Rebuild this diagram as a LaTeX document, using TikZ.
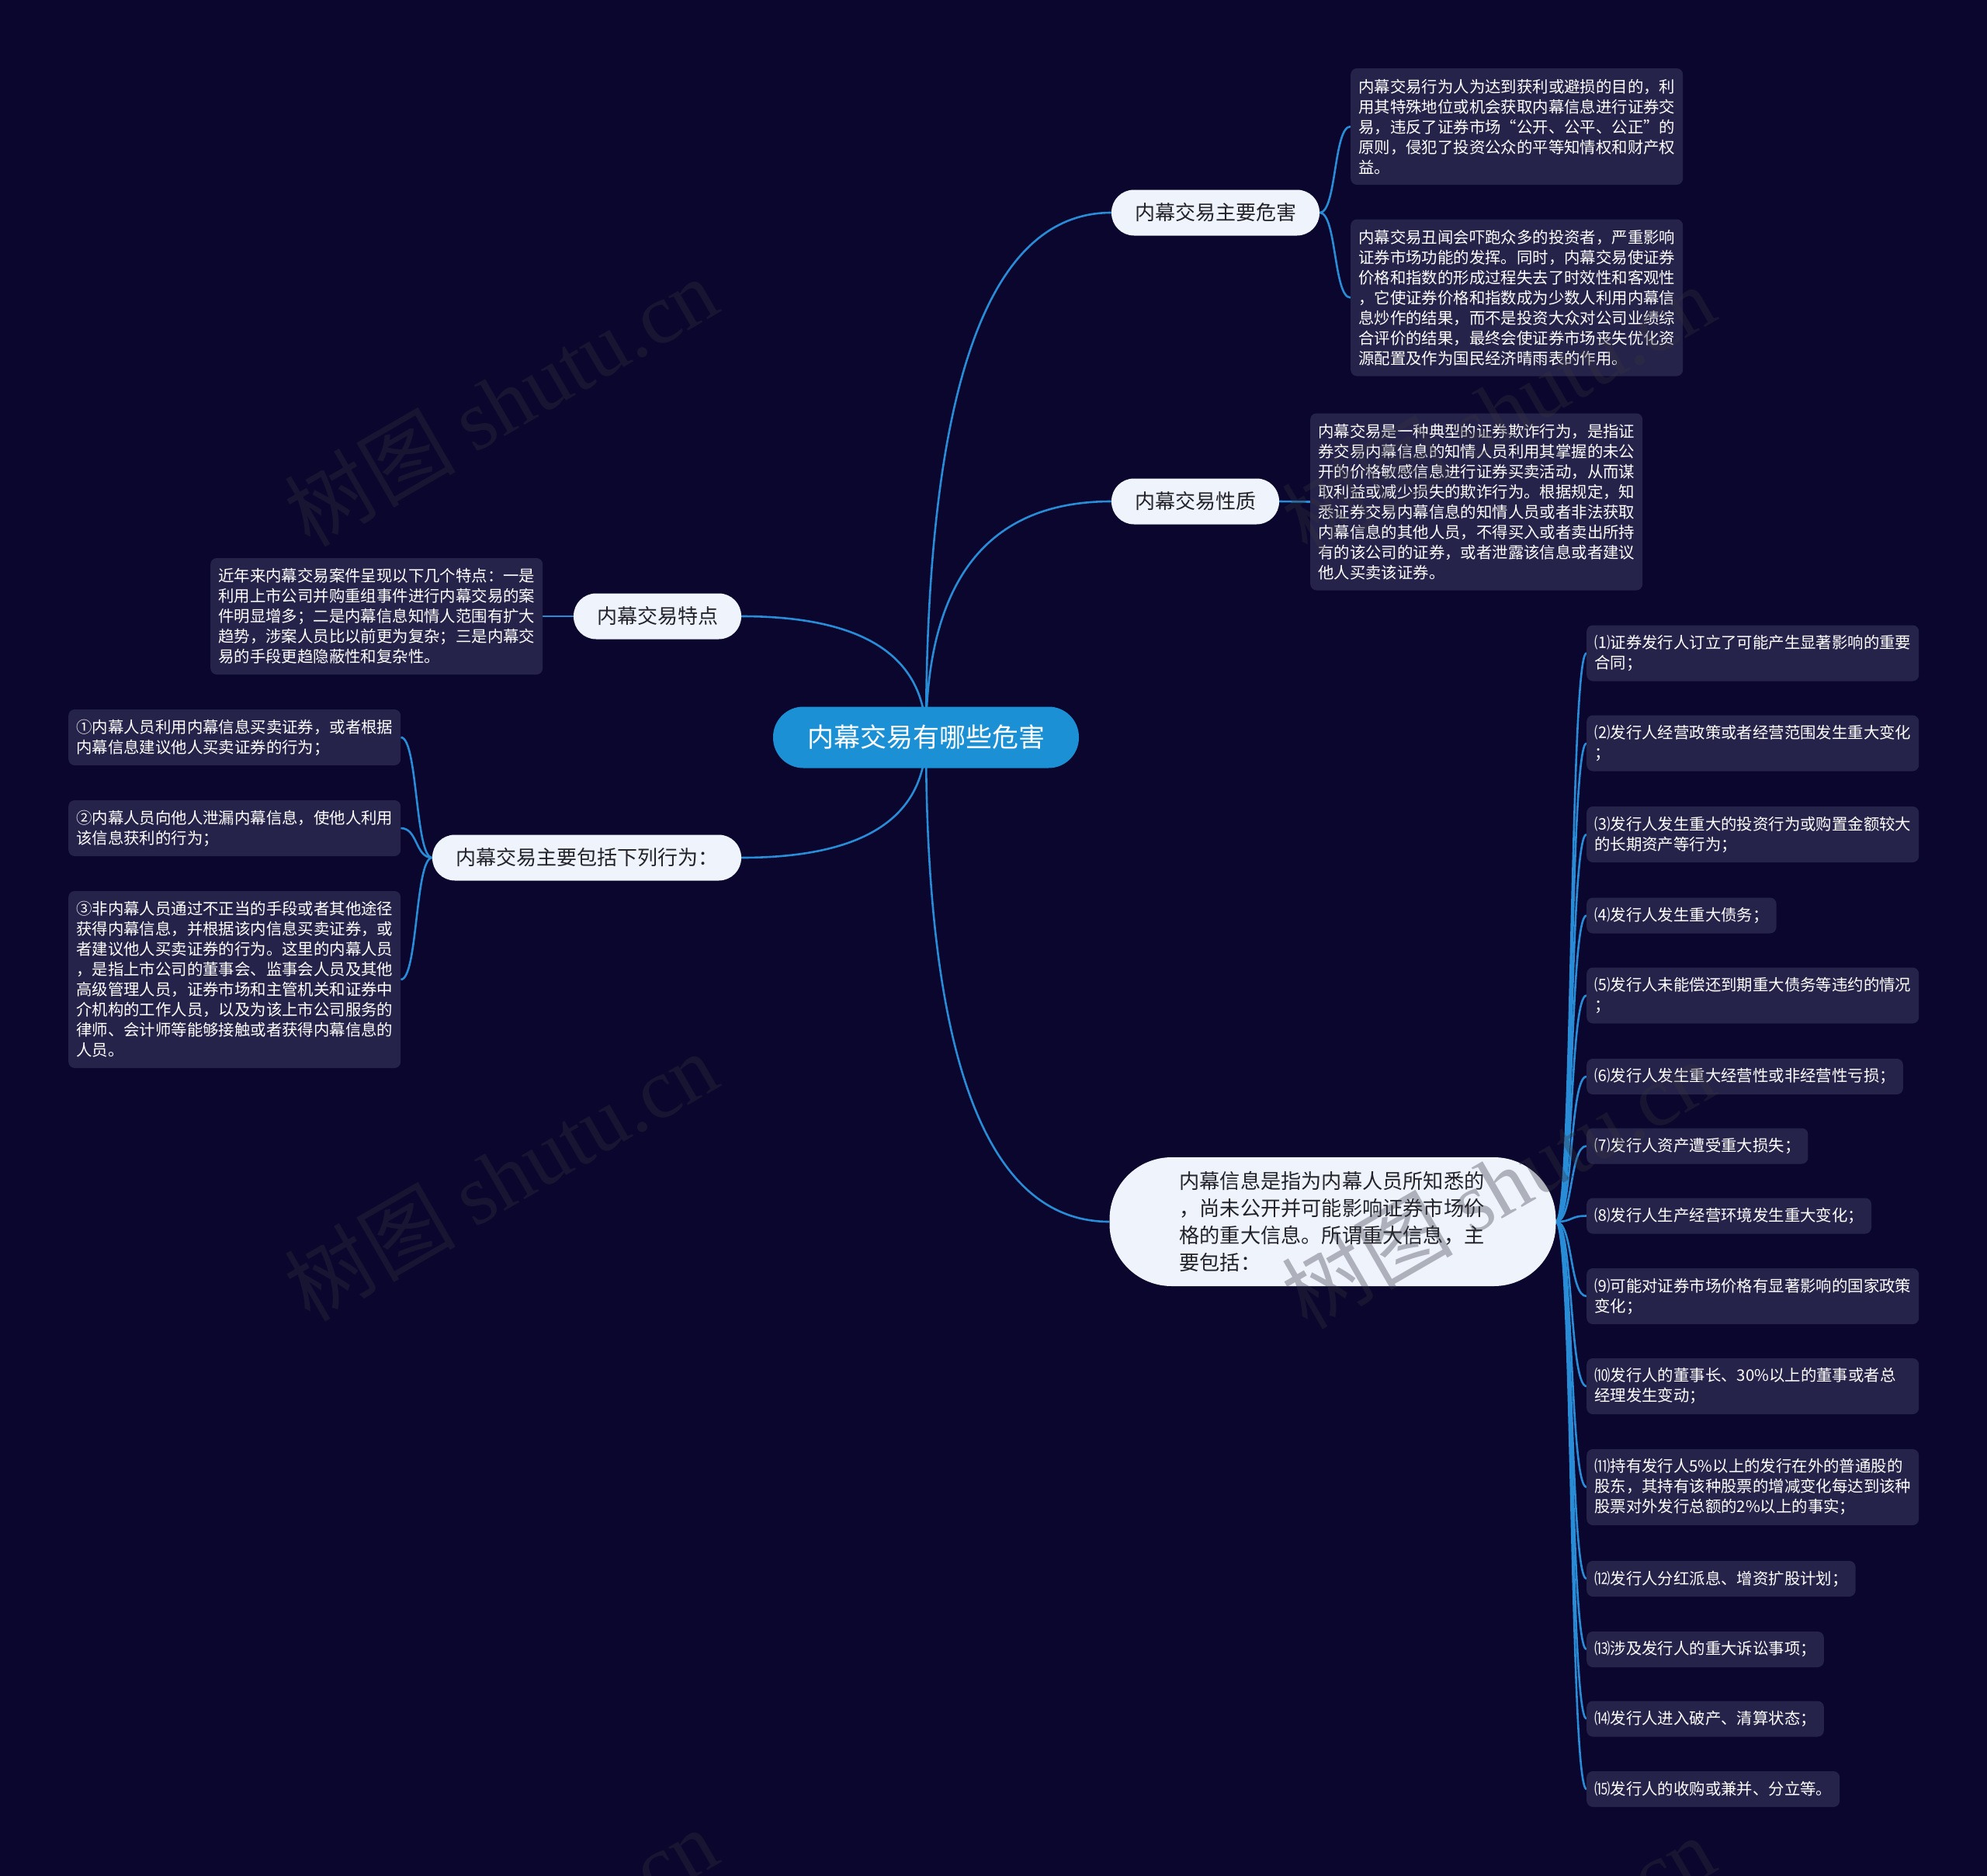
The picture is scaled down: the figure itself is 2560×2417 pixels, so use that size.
\documentclass[tikz,border=0pt]{standalone}
\usepackage{fontspec}
\setmainfont{Noto Sans CJK SC}
\newfontfamily\wmlatin{Liberation Serif}
\usetikzlibrary{calc}
\definecolor{bgc}{RGB}{10,6,45}
\definecolor{leafc}{RGB}{38,35,74}
\definecolor{branchc}{RGB}{238,243,252}
\definecolor{branchtxt}{RGB}{34,34,40}
\definecolor{rootc}{RGB}{27,144,212}
\definecolor{linec}{RGB}{40,140,215}
\definecolor{wmc}{RGB}{52,52,62}
\pgfdeclarelayer{back}
\pgfsetlayers{back,main}
\tikzset{
  leaf/.style={fill=leafc, text=white, rounded corners=8pt, font=\fontsize{20.4}{26}\selectfont,
    inner xsep=10pt, inner ysep=0pt, anchor=west},
  mleaf/.style={leaf, text width=408pt, align=left},
  branch/.style={fill=branchc, text=branchtxt, rounded corners=29pt, minimum height=59pt,
    inner xsep=30pt, inner ysep=0pt, font=\fontsize{26}{30}\selectfont},
  rootnode/.style={fill=rootc, text=white, rounded corners=39pt, minimum height=79pt,
    inner xsep=44pt, inner ysep=0pt, font=\fontsize{34}{40}\selectfont},
  link/.style={draw=linec, line width=2.6pt},
  wm/.style={text=wmc, opacity=0.34, rotate=30, inner sep=0pt, font=\fontsize{110}{110}\selectfont}
}
\begin{document}
\begin{tikzpicture}[x=1pt,y=-1pt]
\useasboundingbox (0,0) rectangle (2560,2417);
\begin{pgfonlayer}{back}
\fill[bgc] (0,0) rectangle (2560,2417);
\end{pgfonlayer}

% root
\node[rootnode] (root) at (1193,950) {内幕交易有哪些危害};

% branches
\node[branch] (b1) at (1566,274) {内幕交易主要危害};
\node[branch] (b2) at (1540,646) {内幕交易性质};
\node[branch] (b3) at (847,794) {内幕交易特点};
\node[branch] (b4) at (756,1105) {内幕交易主要包括下列行为：};
\node[fill=branchc, text=branchtxt, rounded corners=80pt, minimum width=575pt, minimum height=166pt,
  text width=395pt, align=left, inner sep=0pt, font=\fontsize{26.2}{34.8}\selectfont]
  (b5) at (1717,1574) {内幕信息是指为内幕人员所知悉的\\，尚未公开并可能影响证券市场价\\格的重大信息。所谓重大信息，主\\要包括：};

% leaves of b1
\node[mleaf, minimum height=150pt] (a1) at (1740,163) {内幕交易行为人为达到获利或避损的目的，利\\用其特殊地位或机会获取内幕信息进行证券交\\易，违反了证券市场“公开、公平、公正”的\\原则，侵犯了投资公众的平等知情权和财产权\\益。};
\node[mleaf, minimum height=202pt] (a2) at (1740,383.5) {内幕交易丑闻会吓跑众多的投资者，严重影响\\证券市场功能的发挥。同时，内幕交易使证券\\价格和指数的形成过程失去了时效性和客观性\\，它使证券价格和指数成为少数人利用内幕信\\息炒作的结果，而不是投资大众对公司业绩综\\合评价的结果，最终会使证券市场丧失优化资\\源配置及作为国民经济晴雨表的作用。};

% leaf of b2
\node[mleaf, minimum height=228pt] (bb) at (1688,646.5) {内幕交易是一种典型的证券欺诈行为，是指证\\券交易内幕信息的知情人员利用其掌握的未公\\开的价格敏感信息进行证券买卖活动，从而谋\\取利益或减少损失的欺诈行为。根据规定，知\\悉证券交易内幕信息的知情人员或者非法获取\\内幕信息的其他人员，不得买入或者卖出所持\\有的该公司的证券，或者泄露该信息或者建议\\他人买卖该证券。};

% leaf of b3
\node[mleaf, minimum height=150pt] (cc) at (271,794) {近年来内幕交易案件呈现以下几个特点：一是\\利用上市公司并购重组事件进行内幕交易的案\\件明显增多；二是内幕信息知情人范围有扩大\\趋势，涉案人员比以前更为复杂；三是内幕交\\易的手段更趋隐蔽性和复杂性。};

% leaves of b4
\node[mleaf, minimum height=72pt] (d1) at (88,950) {①内幕人员利用内幕信息买卖证券，或者根据\\内幕信息建议他人买卖证券的行为；};
\node[mleaf, minimum height=72pt] (d2) at (88,1067) {②内幕人员向他人泄漏内幕信息，使他人利用\\该信息获利的行为；};
\node[mleaf, minimum height=228pt] (d3) at (88,1262) {③非内幕人员通过不正当的手段或者其他途径\\获得内幕信息，并根据该内信息买卖证券，或\\者建议他人买卖证券的行为。这里的内幕人员\\，是指上市公司的董事会、监事会人员及其他\\高级管理人员，证券市场和主管机关和证券中\\介机构的工作人员，以及为该上市公司服务的\\律师、会计师等能够接触或者获得内幕信息的\\人员。};

% leaves of b5
\node[mleaf, minimum height=72pt] (e1) at (2044,841.5) {⑴证券发行人订立了可能产生显著影响的重要\\合同；};
\node[mleaf, minimum height=72pt] (e2) at (2044,957.5) {⑵发行人经营政策或者经营范围发生重大变化\\；};
\node[mleaf, minimum height=72pt] (e3) at (2044,1075) {⑶发行人发生重大的投资行为或购置金额较大\\的长期资产等行为；};
\node[leaf, minimum height=46pt] (e4) at (2044,1179.5) {⑷发行人发生重大债务；};
\node[mleaf, minimum height=72pt] (e5) at (2044,1282.5) {⑸发行人未能偿还到期重大债务等违约的情况\\；};
\node[leaf, minimum height=46pt] (e6) at (2044,1387) {⑹发行人发生重大经营性或非经营性亏损；};
\node[leaf, minimum height=46pt] (e7) at (2044,1476.5) {⑺发行人资产遭受重大损失；};
\node[leaf, minimum height=46pt] (e8) at (2044,1566.5) {⑻发行人生产经营环境发生重大变化；};
\node[mleaf, minimum height=72pt] (e9) at (2044,1670) {⑼可能对证券市场价格有显著影响的国家政策\\变化；};
\node[mleaf, minimum height=72pt] (e10) at (2044,1786) {⑽发行人的董事长、30\%以上的董事或者总\\经理发生变动；};
\node[mleaf, minimum height=98pt] (e11) at (2044,1916) {⑾持有发行人5\%以上的发行在外的普通股的\\股东，其持有该种股票的增减变化每达到该种\\股票对外发行总额的2\%以上的事实；};
\node[leaf, minimum height=46pt] (e12) at (2044,2034) {⑿发行人分红派息、增资扩股计划；};
\node[leaf, minimum height=46pt] (e13) at (2044,2125) {⒀涉及发行人的重大诉讼事项；};
\node[leaf, minimum height=46pt] (e14) at (2044,2214.5) {⒁发行人进入破产、清算状态；};
\node[leaf, minimum height=46pt] (e15) at (2044,2305) {⒂发行人的收购或兼并、分立等。};

% connectors
\begin{pgfonlayer}{back}
\coordinate (k1) at (root.center |- b1.west);
\coordinate (k2) at (root.center |- b2.west);
\coordinate (k3) at (root.center |- b3.east);
\coordinate (k4) at (root.center |- b4.east);
\coordinate (k5) at (root.center |- b5.west);
\draw[link] (root.center) .. controls ($(root.center)!0.667!(k1)$) and ($(b1.west)!0.667!(k1)$) .. (b1.west);
\draw[link] (root.center) .. controls ($(root.center)!0.667!(k2)$) and ($(b2.west)!0.667!(k2)$) .. (b2.west);
\draw[link] (root.center) .. controls ($(root.center)!0.667!(k3)$) and ($(b3.east)!0.667!(k3)$) .. (b3.east);
\draw[link] (root.center) .. controls ($(root.center)!0.667!(k4)$) and ($(b4.east)!0.667!(k4)$) .. (b4.east);
\draw[link] (root.center) .. controls ($(root.center)!0.667!(k5)$) and ($(b5.west)!0.667!(k5)$) .. (b5.west);

\draw[link] (b1.east) .. controls +(22,0) and +(-22,0) .. (a1.west);
\draw[link] (b1.east) .. controls +(22,0) and +(-22,0) .. (a2.west);
\draw[link] (b2.east) -- (bb.west);
\draw[link] (b3.west) -- (cc.east);
\foreach \d in {d1,d2,d3}
  \draw[link] (b4.west) .. controls +(-22,0) and +(22,0) .. (\d.east);
\foreach \e in {e1,e2,e3,e4,e5,e6,e7,e8,e9,e10,e11,e12,e13,e14,e15}
  \draw[link] (b5.east) .. controls +(22,0) and +(-22,0) .. (\e.west);
\end{pgfonlayer}

% watermarks
\foreach \cx/\cy [count=\i] in {645/517, 1930/527, 645/1515, 1930/1525, 645/2515, 1930/2525}
  \node[wm] (wm\i) at (\cx,\cy) {树图 {\wmlatin shutu.cn}};
\end{tikzpicture}
\end{document}
